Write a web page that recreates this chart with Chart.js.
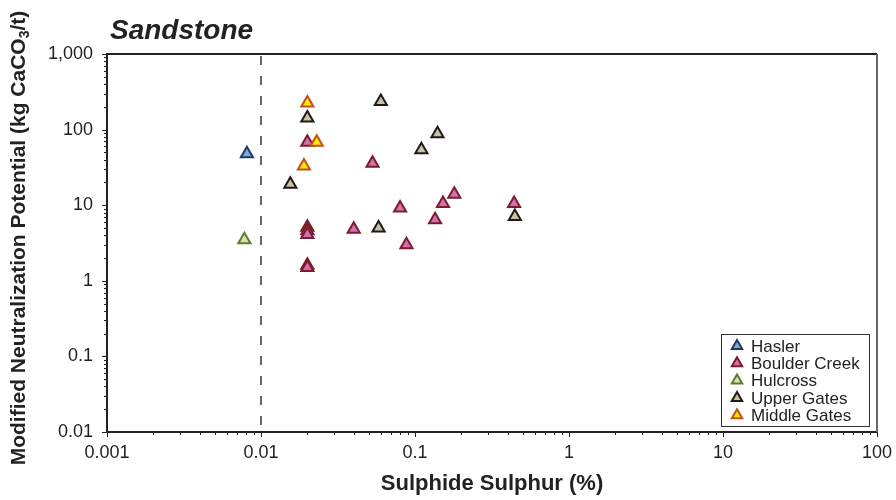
<!DOCTYPE html>
<html>
<head>
<meta charset="utf-8">
<script src="https://cdn.jsdelivr.net/npm/chart.js@4.4.0/dist/chart.umd.min.js"></script>
<style>
  html, body { margin: 0; padding: 0; background: #fff; }
  #wrap { width: 896px; height: 500px; position: relative; }
</style>
</head>
<body>
<div id="wrap"><canvas id="grafico"></canvas></div>
<script>
// datos (Sulphide S %, MNP kg CaCO3/t)
var nombres = ['Hasler', 'Boulder Creek', 'Hulcross', 'Upper Gates', 'Middle Gates'];

var haslerX = [0.0081];
var haslerY = [48];

var boulderX = [0.02, 0.053, 0.18, 0.152, 0.44, 0.08, 0.135, 0.02, 0.02, 0.02, 0.04, 0.088, 0.02, 0.02];
var boulderY = [68, 36, 14, 10.5, 10.5, 9.2, 6.4, 5.1, 4.6, 4.1, 4.8, 3.0, 1.6, 1.5];

var hulcrossX = [0.0078];
var hulcrossY = [3.5];

var upperX = [0.02, 0.06, 0.14, 0.11, 0.0155, 0.445, 0.058];
var upperY = [142, 235, 88, 54, 19, 7.1, 5.0];

var middleX = [0.02, 0.023, 0.019];
var middleY = [225, 68, 33];

var xTickLabels = ['0.001', '0.01', '0.1', '1', '10', '100'];
var yTickLabels = ['0.01', '0.1', '1', '10', '100', '1,000'];
var lineaCorte = 0.01;

var rellenos = ['#7fa9d9', '#d46fb3', '#d6e3b5', '#c9c1a0', '#ffec00'];
var bordes = ['#1d3b63', '#7b1c2a', '#5b7b2f', '#1b1b1b', '#c5501c'];

var fuente = "'Liberation Sans', Arial, sans-serif";

function puntos(xs, ys) {
    var res = [];
    for (var i = 0; i < xs.length; i++) {
        res.push({ x: xs[i], y: ys[i] });
    }
    return res;
}

var series = [
    puntos(haslerX, haslerY),
    puntos(boulderX, boulderY),
    puntos(hulcrossX, hulcrossY),
    puntos(upperX, upperY),
    puntos(middleX, middleY)
];

var datasets = [];
for (var i = 0; i < nombres.length; i++) {
    datasets.push({
        label: nombres[i],
        data: series[i],
        pointStyle: 'triangle',
        pointRadius: 7,
        pointHoverRadius: 7,
        borderWidth: 2,
        backgroundColor: rellenos[i],
        borderColor: bordes[i],
        order: nombres.length - i
    });
}

// ticks log: 1..9 x 10^n
function ticksLog(min, max) {
    var t = [];
    for (var e = Math.round(Math.log10(min)); e < Math.round(Math.log10(max)); e++) {
        for (var m = 1; m < 10; m++) {
            t.push({ value: m * Math.pow(10, e), major: m == 1 });
        }
    }
    t.push({ value: max, major: true });
    return t;
}

function etiqueta(lista, min) {
    return function (value) {
        var k = Math.log10(value / min);
        if (Math.abs(k - Math.round(k)) < 1e-6) return lista[Math.round(k)];
        return '';
    };
}

var marco = {
    id: 'marco',
    beforeDatasetsDraw: function (chart) {
        var c = chart.ctx, a = chart.chartArea;
        var px = chart.scales.x.getPixelForValue(lineaCorte);
        c.save();
        c.strokeStyle = '#666';
        c.lineWidth = 2;
        c.setLineDash([9, 11]);
        c.beginPath();
        c.moveTo(px, a.top + 2);
        c.lineTo(px, a.bottom);
        c.stroke();
        c.restore();
    },
    afterDraw: function (chart) {
        var c = chart.ctx, a = chart.chartArea;
        var sx = chart.scales.x, sy = chart.scales.y;
        c.save();
        // borde superior y derecho
        c.lineWidth = 2;
        c.strokeStyle = '#222';
        c.beginPath();
        c.moveTo(a.left, a.top);
        c.lineTo(a.right, a.top);
        c.stroke();
        c.strokeStyle = '#666';
        c.beginPath();
        c.moveTo(a.right, a.top);
        c.lineTo(a.right, a.bottom);
        c.stroke();

        // marcas de los ejes
        c.strokeStyle = '#222';
        c.lineWidth = 1;
        sx.ticks.forEach(function (t) {
            var p = Math.round(sx.getPixelForValue(t.value)) + 0.5;
            var l = t.major ? 5 : 3;
            c.beginPath();
            c.moveTo(p, a.bottom);
            c.lineTo(p, a.bottom + l);
            c.stroke();
        });
        sy.ticks.forEach(function (t) {
            var p = Math.round(sy.getPixelForValue(t.value)) + 0.5;
            var l = t.major ? 5 : 3;
            c.beginPath();
            c.moveTo(a.left, p);
            c.lineTo(a.left - l, p);
            c.stroke();
        });

        // titulo
        c.fillStyle = '#222';
        c.font = "italic bold 28px " + fuente;
        c.textAlign = 'left';
        c.textBaseline = 'alphabetic';
        c.fillText('Sandstone', 110, 39);

        // titulo eje x
        c.font = "bold 22px " + fuente;
        c.textAlign = 'center';
        c.textBaseline = 'middle';
        c.fillText('Sulphide Sulphur (%)', (a.left + a.right) / 2, 484);

        // titulo eje y con subindice
        var p1 = 'Modified Neutralization Potential (kg CaCO';
        var p2 = '3';
        var p3 = '/t)';
        c.translate(18, (a.top + a.bottom) / 2 - 5);
        c.rotate(-Math.PI / 2);
        c.font = "bold 21px " + fuente;
        var w1 = c.measureText(p1).width;
        var w3 = c.measureText(p3).width;
        c.font = "bold 14px " + fuente;
        var w2 = c.measureText(p2).width;
        var x0 = -(w1 + w2 + w3) / 2;
        c.textAlign = 'left';
        c.textBaseline = 'alphabetic';
        c.font = "bold 21px " + fuente;
        c.fillText(p1, x0, 7);
        c.font = "bold 14px " + fuente;
        c.fillText(p2, x0 + w1, 11);
        c.font = "bold 21px " + fuente;
        c.fillText(p3, x0 + w1 + w2, 7);
        c.restore();

        // leyenda
        c.save();
        var lx = 721.5, ly = 334.5, lw = 148, lh = 92;
        c.fillStyle = '#fff';
        c.fillRect(lx, ly, lw, lh);
        c.strokeStyle = '#333';
        c.lineWidth = 1;
        c.strokeRect(lx, ly, lw, lh);
        c.font = "17px " + fuente;
        c.textAlign = 'left';
        c.textBaseline = 'middle';
        for (var i = 0; i < nombres.length; i++) {
            var cy = 346 + i * 17.3;
            var r = 6;
            c.beginPath();
            c.moveTo(737, cy - r);
            c.lineTo(737 + r * 0.866, cy + r * 0.5);
            c.lineTo(737 - r * 0.866, cy + r * 0.5);
            c.closePath();
            c.fillStyle = rellenos[i];
            c.fill();
            c.strokeStyle = bordes[i];
            c.lineWidth = 2;
            c.stroke();
            c.fillStyle = '#222';
            c.fillText(nombres[i], 751, cy + 1);
        }
        c.restore();
    }
};

const ctx = document.getElementById('grafico').getContext('2d');
const myChart = new Chart(ctx, {
    type: 'scatter',
    data: { datasets: datasets },
    options: {
        responsive: true,
        maintainAspectRatio: false,
        animation: false,
        layout: { padding: { top: 54, right: 19, left: 0, bottom: 0 } },
        plugins: {
            legend: { display: false },
            tooltip: { enabled: false }
        },
        scales: {
            x: {
                type: 'logarithmic',
                min: 0.001,
                max: 100,
                afterBuildTicks: function (s) { s.ticks = ticksLog(0.001, 100); },
                afterFit: function (s) {
                    s.height = 68;
                    s.paddingRight = 0;
                    s.paddingLeft = 0;
                },
                grid: { display: false, drawTicks: false },
                border: { display: true, color: '#222', width: 2 },
                ticks: {
                    autoSkip: false,
                    maxRotation: 0,
                    padding: 10,
                    color: '#222',
                    font: { family: fuente, size: 18 },
                    callback: etiqueta(xTickLabels, 0.001)
                }
            },
            y: {
                type: 'logarithmic',
                min: 0.01,
                max: 1000,
                afterBuildTicks: function (s) { s.ticks = ticksLog(0.01, 1000); },
                afterFit: function (s) { s.width = 107; },
                grid: { display: false, drawTicks: false },
                border: { display: true, color: '#222', width: 2 },
                ticks: {
                    autoSkip: false,
                    padding: 14,
                    color: '#222',
                    font: { family: fuente, size: 18 },
                    callback: etiqueta(yTickLabels, 0.01)
                }
            }
        }
    },
    plugins: [marco]
});
</script>
</body>
</html>
